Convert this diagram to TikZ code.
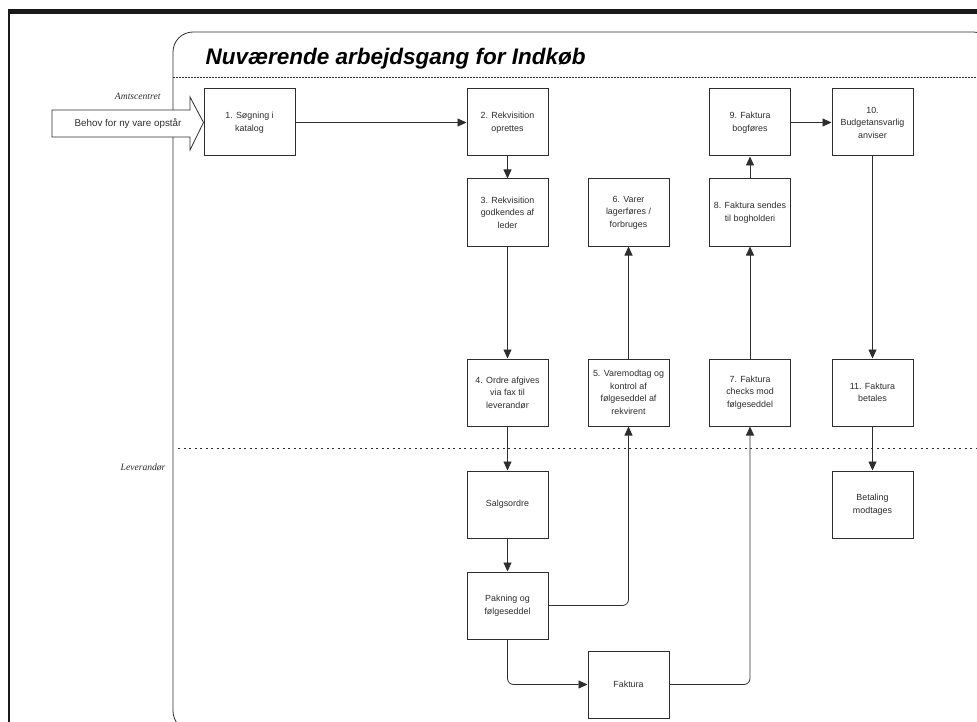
\documentclass[tikz,border=0pt]{standalone}
\usepackage{fontspec}
\setmainfont{Liberation Sans}
\newfontfamily\lanefont{Liberation Serif}
\usetikzlibrary{arrows.meta}
\definecolor{ink}{HTML}{2E2E2E}
\begin{document}
\begin{tikzpicture}[x=1pt,y=-1pt,
  stepbox/.style={draw=ink, line width=1pt, fill=white, text=ink,
    minimum width=81pt, minimum height=67pt, inner sep=1pt, align=center,
    font=\fontsize{8.9}{12.5}\selectfont},
  conn/.style={draw=ink, line width=0.8pt,
    -{Triangle[length=9pt,width=8pt]}},
  lanelabel/.style={anchor=base east, text=ink,
    font=\lanefont\itshape\fontsize{9.6}{11}\selectfont},
]
\useasboundingbox (0,0) rectangle (977,722);

% page frame
\fill[black!90] (8,9) rectangle (977,14);
\fill[black!90] (8,9) rectangle (10,722);

% pool outline (runs off the page at the right and bottom)
\begin{scope}
  \clip (0,0) rectangle (977,722);
  \draw[ink, line width=0.8pt, rounded corners=20pt] (173,32) rectangle (993,731);
\end{scope}

% title band and lane separator
\draw[ink, line width=0.8pt, dash pattern=on 2pt off 1pt] (173,77) -- (977,77);
\draw[ink, line width=0.7pt, dash pattern=on 2pt off 3.5pt] (178,448) -- (977,448);

\node[anchor=base west, text=black, font=\fontsize{22.5}{26}\selectfont\bfseries\itshape]
  (title) at (202,65) {Nuværende arbejdsgang for Indkøb};

\node[lanelabel] (laneA) at (164,100) {Amtscentret};
\node[lanelabel] (laneL) at (169,470) {Leverandør};

% process steps
\node[stepbox, minimum width=91pt] (b1) at (249.5,122.5) {1. Søgning i\\katalog};
\node[stepbox] (b2)  at (507.5,122.5) {2. Rekvisition\\oprettes};
\node[stepbox] (b9)  at (750,122.5)   {9. Faktura\\bogføres};
\node[stepbox] (b10) at (872.5,122.5) {10.\\Budgetansvarlig\\anviser};
\node[stepbox] (b3)  at (507.5,212.5) {3. Rekvisition\\godkendes af\\leder};
\node[stepbox] (b6)  at (628.5,212.5) {6. Varer\\lagerføres /\\forbruges};
\node[stepbox] (b8)  at (750,212.5)   {8. Faktura sendes\\til bogholderi};
\node[stepbox] (b4)  at (507.5,392.5) {4. Ordre afgives\\via fax til\\leverandør};
\node[stepbox] (b5)  at (628.5,392.5) {5. Varemodtag og\\kontrol af\\følgeseddel af\\rekvirent};
\node[stepbox] (b7)  at (750,392.5)   {7. Faktura\\checks mod\\følgeseddel};
\node[stepbox] (b11) at (872.5,392.5) {11. Faktura\\betales};
\node[stepbox] (salg) at (507.5,504.5) {Salgsordre};
\node[stepbox] (bet)  at (872.5,504.5) {Betaling\\modtages};
\node[stepbox] (pak)  at (507.5,605.5) {Pakning og\\følgeseddel};
\node[stepbox] (fak)  at (628.5,684.5) {Faktura};

% trigger block arrow
\draw[ink, line width=0.8pt, fill=white]
  (52,110) -- (190,110) -- (190,97) -- (b1.west) -- (190,150) -- (190,137) -- (52,137) -- cycle;
\node[text=ink, font=\fontsize{9.8}{11}\selectfont] (need) at (128,123.5) {Behov for ny vare opstår};

% flow
\draw[conn] (b1.east) -- (b2.west);
\draw[conn] (b2) -- (b3);
\draw[conn] (b3) -- (b4);
\draw[conn] (b4) -- (salg);
\draw[conn] (salg) -- (pak);
\draw[conn, rounded corners=6pt] (pak.east) -| (b5.south);
\draw[conn] (b5) -- (b6);
\draw[conn, rounded corners=6pt] (pak.south) |- (fak.west);
\draw[conn, rounded corners=6pt] (fak.east) -| (b7.south);
\draw[conn] (b7) -- (b8);
\draw[conn] (b8) -- (b9);
\draw[conn] (b9) -- (b10);
\draw[conn] (b10) -- (b11);
\draw[conn] (b11) -- (bet);
\end{tikzpicture}
\end{document}
